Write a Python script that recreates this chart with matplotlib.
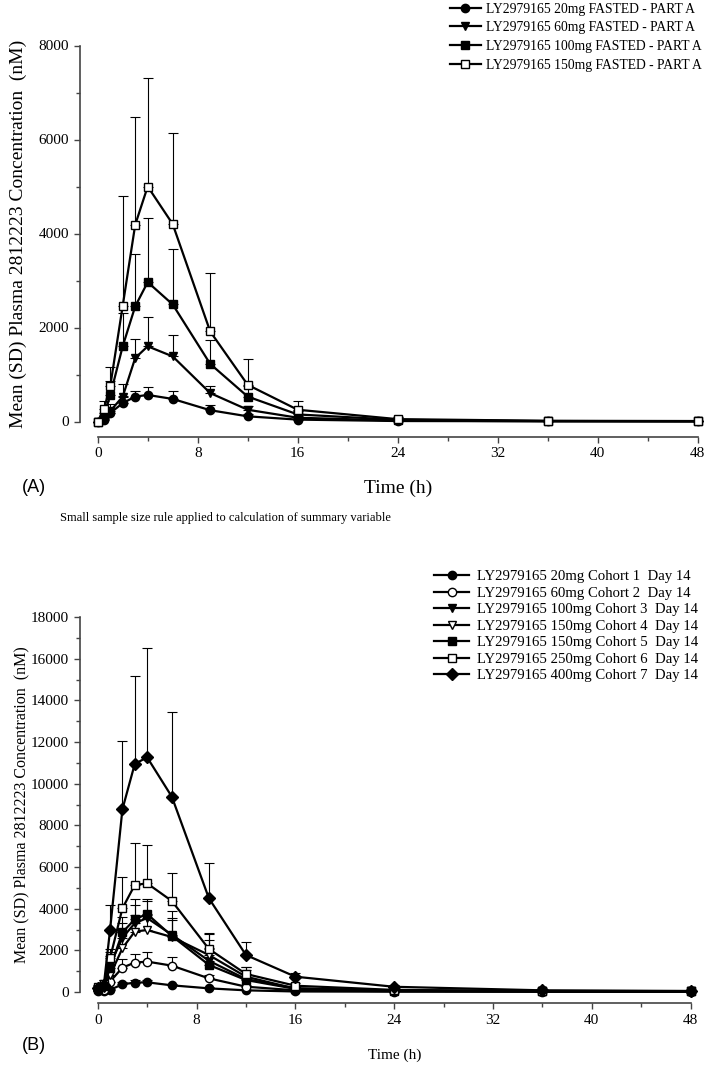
import matplotlib
matplotlib.use("Agg")
import matplotlib.pyplot as plt
from matplotlib.ticker import MultipleLocator
from matplotlib.lines import Line2D
import numpy as np

plt.rcParams['font.family'] = ['Liberation Serif', 'DejaVu Serif']

# time points (h)
times = [0, 0.5, 1, 2, 3, 4, 6, 9, 12, 16, 24, 36, 48]

# panel A - single dose, fasted
a_labels = ["LY2979165 20mg FASTED - PART A",
            "LY2979165 60mg FASTED - PART A",
            "LY2979165 100mg FASTED - PART A",
            "LY2979165 150mg FASTED - PART A"]
a_20_mean = [0, 40, 180, 390, 530, 565, 480, 240, 110, 40, 10, 5, 3]
a_20_sd = [0, 30, 80, 150, 110, 165, 160, 115, 50, 20, 5, 3, 2]
a_60_mean = [0, 50, 220, 530, 1350, 1600, 1385, 605, 250, 80, 20, 5, 3]
a_60_sd = [0, 40, 150, 260, 400, 630, 445, 140, 80, 30, 10, 3, 2]
a_100_mean = [0, 110, 555, 1600, 2450, 2965, 2490, 1225, 530, 150, 35, 10, 5]
a_100_sd = [0, 80, 300, 700, 1110, 1360, 1180, 500, 230, 80, 15, 5, 3]
a_150_mean = [0, 265, 745, 2460, 4185, 5000, 4200, 1915, 780, 250, 50, 15, 10]
a_150_sd = [0, 175, 425, 2340, 2300, 2310, 1940, 1240, 550, 190, 40, 10, 5]

# panel B - day 14
b_labels = ["LY2979165 20mg Cohort 1  Day 14",
            "LY2979165 60mg Cohort 2  Day 14",
            "LY2979165 100mg Cohort 3  Day 14",
            "LY2979165 150mg Cohort 4  Day 14",
            "LY2979165 150mg Cohort 5  Day 14",
            "LY2979165 250mg Cohort 6  Day 14",
            "LY2979165 400mg Cohort 7  Day 14"]
b_c1_mean = [30, 40, 100, 370, 450, 465, 320, 175, 80, 25, 15, 10, 10]
b_c1_sd = [20, 30, 60, 100, 120, 110, 80, 50, 30, 10, 5, 5, 5]
b_c2_mean = [80, 120, 500, 1170, 1410, 1460, 1265, 655, 255, 80, 40, 30, 25]
b_c2_sd = [40, 60, 250, 400, 430, 480, 400, 180, 90, 30, 15, 10, 10]
b_c3_mean = [120, 200, 1300, 2600, 3300, 3550, 2750, 1500, 620, 180, 60, 40, 30]
b_c3_sd = [60, 150, 600, 700, 900, 800, 700, 600, 250, 80, 30, 20, 15]
b_c4_mean = [130, 220, 800, 2100, 2900, 2975, 2640, 1775, 735, 160, 60, 40, 30]
b_c4_sd = [60, 150, 500, 800, 800, 720, 900, 700, 300, 80, 30, 20, 15]
b_c5_mean = [150, 300, 1140, 2860, 3490, 3745, 2690, 1300, 575, 150, 60, 40, 30]
b_c5_sd = [80, 200, 600, 750, 960, 700, 1200, 1500, 640, 100, 30, 20, 15]
b_c6_mean = [250, 400, 1620, 4015, 5135, 5215, 4370, 2065, 865, 300, 100, 50, 40]
b_c6_sd = [100, 200, 450, 1490, 2030, 1840, 1360, 780, 340, 150, 50, 20, 15]
b_c7_mean = [200, 350, 2975, 8770, 10945, 11265, 9375, 4500, 1775, 735, 250, 80, 50]
b_c7_sd = [100, 250, 1200, 3280, 4220, 5230, 4080, 1680, 640, 160, 80, 30, 20]

a_series = [(a_20_mean, a_20_sd, 'o', 'black'),
            (a_60_mean, a_60_sd, 'v', 'black'),
            (a_100_mean, a_100_sd, 's', 'black'),
            (a_150_mean, a_150_sd, 's', 'white')]
b_series = [(b_c1_mean, b_c1_sd, 'o', 'black'),
            (b_c2_mean, b_c2_sd, 'o', 'white'),
            (b_c3_mean, b_c3_sd, 'v', 'black'),
            (b_c4_mean, b_c4_sd, 'v', 'white'),
            (b_c5_mean, b_c5_sd, 's', 'black'),
            (b_c6_mean, b_c6_sd, 's', 'white'),
            (b_c7_mean, b_c7_sd, 'D', 'black')]


def draw(ax, series, ms):
    handles = []
    for mean, sd, mk, face in series:
        cont = ax.errorbar(times, mean, yerr=[np.zeros(len(sd)), sd], fmt='-', marker=mk,
                           color='black', mfc=face, mec='black', ms=ms, lw=1.6,
                           ecolor='black', elinewidth=0.8, capsize=3.6, capthick=0.8)
        for art in cont.get_children():
            art.set_clip_on(False)
        handles.append(Line2D([], [], color='black', lw=1.6, marker=mk, mfc=face,
                              mec='black', ms=ms))
    return handles


def style(ax, ymax, ystep):
    ax.set_xlim(0, 48)
    ax.set_ylim(0, ymax)
    for s in ['top', 'right']:
        ax.spines[s].set_visible(False)
    ax.spines['left'].set_position(('outward', 13))
    ax.spines['left'].set_color('#444444')
    ax.spines['bottom'].set_color('#444444')
    ax.spines['left'].set_linewidth(1.2)
    ax.spines['bottom'].set_linewidth(1.2)
    ax.xaxis.set_major_locator(MultipleLocator(8))
    ax.xaxis.set_minor_locator(MultipleLocator(4))
    ax.yaxis.set_major_locator(MultipleLocator(ystep))
    ax.yaxis.set_minor_locator(MultipleLocator(ystep / 2))
    ax.tick_params(which='both', direction='out', colors='#444444', labelcolor='black')
    ax.tick_params(which='major', length=4, width=1)
    ax.tick_params(which='minor', length=3, width=1)


fig = plt.figure(figsize=(7.09, 10.65), dpi=100)

# panel A
axA = fig.add_axes([97.7 / 709, 643.5 / 1065, 600 / 709, 376 / 1065])
hA = draw(axA, a_series, 6)
style(axA, 8000, 2000)
axA.spines['bottom'].set_position(('outward', 11))
axA.tick_params(labelsize=11)
axA.set_ylabel("Mean (SD) Plasma 2812223 Concentration  (nM)", fontsize=14)
axA.yaxis.set_label_coords(-0.118, 0.5)
axA.set_xlabel("Time (h)", fontsize=14, labelpad=14)
fig.legend(handles=hA, labels=a_labels, loc='upper right', bbox_to_anchor=(1.0, 1.004),
           frameon=False, fontsize=9.8, handlelength=2.3, handletextpad=0.4,
           labelspacing=0.42, borderpad=0.0)
fig.text(22 / 709, 1 - 488 / 1065, "(A)", family='Liberation Sans', fontsize=13,
         va='center', ha='left')
fig.text(60 / 709, 1 - 518 / 1065,
         "Small sample size rule applied to calculation of summary variable",
         fontsize=9, va='center', ha='left')

# panel B
axB = fig.add_axes([97.7 / 709, 73 / 1065, 593 / 709, 375 / 1065])
hB = draw(axB, b_series, 6)
style(axB, 18000, 2000)
axB.spines['bottom'].set_position(('outward', 8))
axB.tick_params(labelsize=11)
axB.set_ylabel("Mean (SD) Plasma 2812223 Concentration  (nM)", fontsize=11.5)
axB.yaxis.set_label_coords(-0.115, 0.5)
axB.set_xlabel("Time (h)", fontsize=11, labelpad=16)
fig.legend(handles=hB, labels=b_labels, loc='upper right', bbox_to_anchor=(0.997, 1 - 561 / 1065),
           frameon=False, fontsize=10.6, handlelength=2.4, handletextpad=0.5,
           labelspacing=0.22, borderpad=0.1)
fig.text(22 / 709, 1 - 1045 / 1065, "(B)", family='Liberation Sans', fontsize=13,
         va='center', ha='left')

fig.savefig("out.png", dpi=100)
